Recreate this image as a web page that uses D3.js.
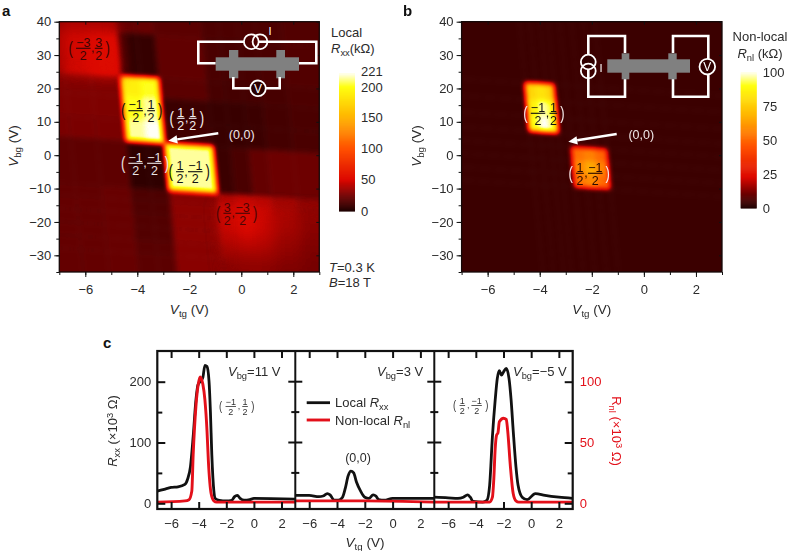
<!DOCTYPE html>
<html><head><meta charset="utf-8">
<script src="https://cdn.jsdelivr.net/npm/d3@7/dist/d3.min.js"></script>
<style>
html,body{margin:0;padding:0;background:#fff}
svg{display:block}
text{font-family:"Liberation Sans",Arial,sans-serif;fill:#2b2b2b}
</style></head><body>
<script>
// ---------- panel a ----------
const aTgEdges=[-11,-6.5,-5.5,-4.35,-3.6,-2.9,-1.05,-0.4,0.3,1,2,6];
const aBgEdges=[60,36,23,17,10,3.5,-10.5,-14,-18,-22,-26,-30,-60];
const aValues=[
 [30,38,38,22,22,18,14,14,14,14,16],
 [36,48,52,7,7,20,13,12,12,13,16],
 [29,29,29,190,200,18,12,11,11,12,14],
 [28,28,28,200,212,9,8,8,9,11,13],
 [27,27,27,212,221,10,8,8,9,11,13],
 [19,19,19,5,5,212,9,13,21,23,23],
 [20,20,22,14,14,30,40,44,42,36,32],
 [21,21,22,15,15,31,46,50,46,38,32],
 [21,21,22,16,16,31,46,52,46,37,30],
 [21,21,22,16,16,31,42,46,42,34,29],
 [21,21,22,17,17,30,36,38,36,31,27],
 [21,21,22,18,18,30,30,32,30,28,26]
];
const aBarTicks=[0,50,100,150,200,221];
// ---------- panel b ----------
const bTgEdges=[-11,-4.3,-3.9,-3.5,-3.2,-2.75,-2.3,-1.85,-1.4,6];
const bBgEdges=[60,21,16,11,6.5,2.5,-1.5,-5.5,-9.5,-60];
const bValues=[
 [4,4,4,4,4,4,4,4,4],
 [4,78,82,76,4,4,4,4,4],
 [4,86,96,90,4,4,4,4,4],
 [4,90,100,92,4,4,4,4,4],
 [4,4,4,4,4,4,4,4,4],
 [4,4,4,4,4,52,56,50,4],
 [4,4,4,4,4,58,66,56,4],
 [4,4,4,4,4,54,58,50,4],
 [4,4,4,4,4,4,4,4,4]
];
const bBarTicks=[0,25,50,75,100];
// ---------- panel c ----------
const c1Tg=[-7,-6.5,-6,-5.5,-5,-4.8,-4.6,-4.4,-4.2,-4.05,-3.9,-3.7,-3.55,-3.4,-3.25,-3.15,-3.05,-2.9,-2.8,-2.5,-2,-1.6,-1.4,-1.2,-1,-0.7,-0.3,0,3];
const c1Local=[20,23,26,27,31,40,60,110,170,195,200,207,227,225,200,150,80,20,8,5,4,5,11,13,8,5,6,8,7];
const c1NlTg=[-7,-5,-4.7,-4.5,-4.4,-4.2,-4,-3.9,-3.7,-3.55,-3.4,-3.3,-3.1,-2.9,-2.7,3];
const c1Nl=[1,2,3,10,40,80,100,104,98,85,60,35,8,2,1,1];
const c2Tg=[-7,-6,-5.3,-5,-4.7,-4.5,-4.2,-3.9,-3.6,-3.4,-3.2,-3,-2.8,-2.6,-2.3,-2,-1.7,-1.4,-1.2,-1,-0.6,0,3];
const c2Local=[13,13,11,12,16,14,5,5,10,25,45,53,50,35,20,10,8,14,12,6,5,8,8];
const c2NlTg=[-7,-3,-2,3];
const c2Nl=[2,2,2,1];
const c3Tg=[-7,-6,-5.3,-4.9,-4.6,-4.4,-4.2,-3.5,-3.2,-3,-2.8,-2.6,-2.45,-2.3,-2.15,-2,-1.8,-1.6,-1.45,-1.3,-1.1,-0.95,-0.65,-0.3,0.3,1,2,3];
const c3Local=[10,9,8,10,14,10,3,2,5,30,110,170,205,218,211,216,222,205,170,120,60,30,10,6,16,13,10,8];
const c3NlTg=[-7,-3.2,-3,-2.8,-2.7,-2.6,-2.5,-2.4,-2.3,-2,-1.8,-1.7,-1.5,-1.3,-1.1,-0.9,3];
const c3Nl=[1,1,1,5,20,45,56,58,67,70,69,60,30,8,2,1,1];
const cTgTicks=[-6,-4,-2,0,2];

const W=788,H=551;
const svg=d3.select("body").append("svg").attr("width",W).attr("height",H);
const defs=svg.append("defs");

const hotColor=d3.scaleLinear()
  .domain([0,0.11,0.226,0.45,0.68,0.9,1])
  .range(["#1e0000","#700000","#dc0800","#ff5000","#ffb400","#ffff10","#fffff8"]);

// blur works on a grey value field; the colour map is applied afterwards
function blurFilter(id,sd){
  defs.append("filter").attr("id",id).attr("color-interpolation-filters","sRGB")
    .attr("filterUnits","userSpaceOnUse").attr("x",-300).attr("y",-300).attr("width",1500).attr("height",1100)
    .append("feGaussianBlur").attr("stdDeviation",sd);
}
blurFilter("blurA",2.9); blurFilter("blurSoft",7);
{
  const f=defs.append("filter").attr("id","hotMap").attr("color-interpolation-filters","sRGB")
    .attr("filterUnits","userSpaceOnUse").attr("x",-300).attr("y",-300).attr("width",1500).attr("height",1100);
  const tr=f.append("feComponentTransfer");
  const samples=d3.range(0,1.0001,1/128).map(t=>d3.rgb(hotColor(t)));
  [["feFuncR","r"],["feFuncG","g"],["feFuncB","b"]].forEach(([n,k])=>
    tr.append(n).attr("type","table").attr("tableValues",samples.map(c=>(c[k]/255).toFixed(4)).join(" ")));
}
const grey=t=>{const v=Math.round(255*t);return `rgb(${v},${v},${v})`;};

function text(g,x,y,parts,opts={}){
  const t=g.append("text").attr("x",x).attr("y",y)
    .attr("font-size",opts.size||13).attr("text-anchor",opts.anchor||"start");
  if(opts.fill) t.style("fill",opts.fill);
  if(opts.weight) t.attr("font-weight",opts.weight);
  if(opts.rotate!=null) t.attr("transform",`rotate(${opts.rotate} ${x} ${y})`);
  parts.forEach(p=>{
    const s=t.append("tspan").text(p.t);
    if(p.i) s.attr("font-style","italic");
    if(p.sub) s.attr("dy",3).attr("font-size",(opts.size||13)*0.72);
    if(p.after) s.attr("dy",-3);
    if(p.sup) s.attr("dy",-4).attr("font-size",(opts.size||13)*0.72);
  });
  return t;
}

function fracLabel(g,cx,cy,pairs,opts={}){
  const size=opts.size||12.5, col=opts.color||"#111", pcol=opts.parenColor||col;
  const widthOf=s=>s.length>1?size*1.16:size*0.62;
  const gap=size*(opts.gapK||0.34), pw=size*(opts.padK||0.42);
  const total=widthOf(pairs[0][0])+widthOf(pairs[1][0])+gap+2*pw;
  let x=cx-total/2;
  const big=size*1.5;
  g.append("text").attr("x",x).attr("y",cy+big*0.28).attr("font-size",big)
   .attr("text-anchor","middle").style("fill",pcol).attr("transform",`translate(${x} ${cy}) scale(0.7 1) translate(${-x} ${-cy})`).text("(");
  x+=pw;
  pairs.forEach((p,i)=>{
    const w=widthOf(p[0]);
    g.append("text").attr("x",x+w/2).attr("y",cy-size*0.12).attr("font-size",size).attr("text-anchor","middle").style("fill",col).text(p[0]);
    g.append("text").attr("x",x+w/2).attr("y",cy+size*0.92).attr("font-size",size).attr("text-anchor","middle").style("fill",col).text(p[1]);
    g.append("line").attr("x1",x).attr("x2",x+w).attr("y1",cy).attr("y2",cy).attr("stroke",col).attr("stroke-width",Math.max(.7,size*.09));
    x+=w;
    if(i===0){
      g.append("text").attr("x",x+gap/2).attr("y",cy+size*0.32).attr("font-size",size).attr("text-anchor","middle").style("fill",col).text(",");
      x+=gap;
    }
  });
  x+=pw;
  g.append("text").attr("x",x).attr("y",cy+big*0.28).attr("font-size",big)
   .attr("text-anchor","middle").style("fill",pcol).attr("transform",`translate(${x} ${cy}) scale(0.7 1) translate(${-x} ${-cy})`).text(")");
}

function heatPanel(cfg){
  const g=svg.append("g");
  const x=d3.scaleLinear().domain([-7,3]).range(cfg.xr);
  const y=d3.scaleLinear().domain([-35,40]).range([272,21.7]);
  const id="clip"+cfg.id;
  defs.append("clipPath").attr("id",id).append("rect")
    .attr("x",cfg.xr[0]).attr("y",21.7).attr("width",cfg.xr[1]-cfg.xr[0]).attr("height",250.3);
  const clip=g.append("g").attr("clip-path",`url(#${id})`).append("g").attr("filter","url(#hotMap)");
  const heat=clip.append("g").attr("filter","url(#blurA)");
  const soft=clip.append("g").attr("filter","url(#blurSoft)");
  const corner=(c,r)=>{const bg=r-0.5*(c+3);const tg=c-0.012*bg;return [x(tg),y(bg)];};
  const line=d3.line();
  const isSoft=cfg.soft||(()=>false);
  cfg.values.forEach((row,j)=>row.forEach((v,i)=>{
    const col=grey(v/cfg.max);
    const d=line([corner(cfg.tg[i],cfg.bg[j]),corner(cfg.tg[i+1],cfg.bg[j]),corner(cfg.tg[i+1],cfg.bg[j+1]),corner(cfg.tg[i],cfg.bg[j+1])])+"Z";
    heat.append("path").attr("fill",col).attr("stroke",col).attr("stroke-width",.6).attr("d",d);
    if(isSoft(j,i)) soft.append("path").attr("fill",col).attr("stroke",col).attr("stroke-width",.6).attr("d",d);
  }));
  g.append("rect").attr("x",cfg.xr[0]).attr("y",21.7).attr("width",cfg.xr[1]-cfg.xr[0]).attr("height",250.3)
    .attr("fill","none").attr("stroke","#140808").attr("stroke-width",1.3);
  // axes
  const styleAxis=a=>{a.select(".domain").remove();a.selectAll("line").attr("stroke","#111").attr("stroke-width",1);
    a.selectAll("text").attr("font-size",13).style("fill","#2b2b2b").style("font-family",'"Liberation Sans",Arial,sans-serif');};
  styleAxis(g.append("g").attr("transform","translate(0,272)").call(d3.axisBottom(x).tickValues([-6,-4,-2,0,2]).tickSize(5).tickPadding(8).tickFormat(d3.format("d"))));
  styleAxis(g.append("g").attr("transform","translate(0,272)").call(d3.axisBottom(x).tickValues(d3.range(-7,4)).tickSize(3).tickFormat("")));
  styleAxis(g.append("g").attr("transform",`translate(${cfg.xr[0]},0)`).call(d3.axisLeft(y).tickValues(d3.range(-30,41,10)).tickSize(5).tickPadding(3).tickFormat(d3.format("d"))));
  styleAxis(g.append("g").attr("transform",`translate(${cfg.xr[0]},0)`).call(d3.axisLeft(y).tickValues(d3.range(-35,41,5)).tickSize(3).tickFormat("")));
  styleAxis(g.append("g").attr("transform","translate(0,21.7)").call(d3.axisTop(x).tickValues([-6,-4,-2,0,2]).tickSize(-3).tickFormat("")));
  styleAxis(g.append("g").attr("transform",`translate(${cfg.xr[1]},0)`).call(d3.axisRight(y).tickValues(d3.range(-30,41,10)).tickSize(-3).tickFormat("")));
  const xcen=(cfg.xr[0]+cfg.xr[1])/2;
  text(g,xcen,314,[{t:"V",i:1},{t:"tg",sub:1},{t:" (V)",after:1}],{anchor:"middle",size:13.5});
  text(g,cfg.xr[0]-41,146,[{t:"V",i:1},{t:"bg",sub:1},{t:" (V)",after:1}],{anchor:"middle",size:13.5,rotate:-90});
  // colour bar
  const by=d3.scaleLinear().domain([0,cfg.max]).range(cfg.barY);
  const bar=g.append("g");
  d3.range(0,cfg.max,cfg.max/140).forEach(v=>{
    bar.append("rect").attr("x",cfg.barX[0]).attr("width",cfg.barX[1]-cfg.barX[0])
      .attr("y",by(v+cfg.max/140)).attr("height",Math.abs(by(0)-by(cfg.max/140))+.6).attr("fill",hotColor(v/cfg.max));
  });
  cfg.barTicks.forEach(v=>{
    text(g,cfg.barX[1]+6,by(v)+cfg.barDy+(v===221?-2:0)+(v===200?1:0),[{t:String(v)}],{size:13});
  });
  return {g,x,y};
}

// PANEL A
const A=heatPanel({id:"a",xr:[59.3,319.3],tg:aTgEdges,bg:aBgEdges,values:aValues,max:221,
  barX:[339,355],barY:[211,73],barTicks:aBarTicks,barDy:4.5,
  soft:(j,i)=>(j>=7&&i>=6)||(j<=1&&i<=2)});
text(A.g,2,16,[{t:"a"}],{size:15,weight:"bold",fill:"#111"});
text(A.g,331,37,[{t:"Local"}],{size:13});
text(A.g,331,53,[{t:"R",i:1},{t:"xx",sub:1},{t:"(kΩ)",after:1}],{size:13});
text(A.g,329,272,[{t:"T",i:1},{t:"=0.3 K"}],{size:13});
text(A.g,329,287,[{t:"B",i:1},{t:"=18 T"}],{size:13});
fracLabel(A.g,89.3,48.3,[["−3","2"],["3","2"]],{color:"#3a0505"});
fracLabel(A.g,141.7,110.7,[["−1","2"],["1","2"]],{color:"#111"});
fracLabel(A.g,186.7,118.3,[["1","2"],["1","2"]],{color:"#f4f0f0"});
fracLabel(A.g,145,163.3,[["−1","2"],["−1","2"]],{color:"#e8e4e4"});
fracLabel(A.g,189.3,171.7,[["1","2"],["−1","2"]],{color:"#111"});
fracLabel(A.g,236.7,213.3,[["3","2"],["−3","2"]],{color:"#4a0505"});

function wire(g,pts){g.append("path").attr("d",d3.line()(pts)).attr("fill","none").attr("stroke","#fff").attr("stroke-width",2.6).attr("stroke-linejoin","miter");}
function circle(g,cx,cy,r,fill){g.append("circle").attr("cx",cx).attr("cy",cy).attr("r",r).attr("fill",fill).attr("stroke","#fff").attr("stroke-width",1.8);}
function arrow(g,x1,y1,x2,y2){
  const a=Math.atan2(y2-y1,x2-x1),L=9,w=4.2;
  const bx=x2-L*Math.cos(a),by=y2-L*Math.sin(a);
  g.append("line").attr("x1",x1).attr("y1",y1).attr("x2",bx).attr("y2",by).attr("stroke","#fff").attr("stroke-width",2.4);
  g.append("path").attr("fill","#fff").attr("d",d3.line()([[x2,y2],[bx-w*Math.sin(a),by+w*Math.cos(a)],[bx+w*Math.sin(a),by-w*Math.cos(a)]])+"Z");
}
{
  const g=A.g.append("g"), gray="#808080";
  wire(g,[[215.7,63.3],[198.3,63.3],[198.3,41.7],[316.3,41.7],[316.3,63.3],[299,63.3]]);
  g.append("rect").attr("x",215.7).attr("y",57.3).attr("width",83.3).attr("height",13.4).attr("fill",gray);
  g.append("rect").attr("x",229).attr("y",50).attr("width",9.3).attr("height",28.3).attr("fill",gray);
  g.append("rect").attr("x",276.3).attr("y",50).attr("width",8.7).attr("height",28.3).attr("fill",gray);
  wire(g,[[233.3,77],[233.3,88.3],[279.7,88.3],[279.7,77]]);
  circle(g,251.3,41.7,7.4,"#4a0000"); circle(g,260,41.7,7.4,"none");
  circle(g,258,88.3,7.8,"#2a0000");
  text(g,258,92.8,[{t:"V"}],{anchor:"middle",size:12,fill:"#fff"});
  text(g,270,35,[{t:"I"}],{anchor:"middle",size:11,fill:"#fff"});
  arrow(g,218.3,133.3,168.3,140.7);
  text(g,241.7,138.5,[{t:"(0,0)"}],{anchor:"middle",size:12.5,fill:"#f0e8e8"});
}

// PANEL B
const B=heatPanel({id:"b",xr:[461.6,722],tg:bTgEdges,bg:bBgEdges,values:bValues,max:100,
  barX:[740.7,756.7],barY:[208,72],barTicks:bBarTicks,barDy:4.5});
text(B.g,403,16,[{t:"b"}],{size:15,weight:"bold",fill:"#111"});
text(B.g,760,41,[{t:"Non-local"}],{size:13,anchor:"middle"});
text(B.g,760,58,[{t:"R",i:1},{t:"nl",sub:1},{t:" (kΩ)",after:1}],{size:13,anchor:"middle"});
fracLabel(B.g,544,113.3,[["−1","2"],["1","2"]],{color:"#111",parenColor:"#f4e8e8"});
fracLabel(B.g,589.3,173.3,[["1","2"],["−1","2"]],{color:"#2a0a00",parenColor:"#f4e8e8"});
{
  const g=B.g.append("g"), gray="#808080";
  wire(g,[[625,53],[625,36],[588.3,36],[588.3,96.7],[625,96.7],[625,79]]);
  wire(g,[[673,53],[673,36],[708.3,36],[708.3,96.7],[673,96.7],[673,79]]);
  g.append("rect").attr("x",607.3).attr("y",59.3).attr("width",82.7).attr("height",13.4).attr("fill",gray);
  g.append("rect").attr("x",621.7).attr("y",53.3).attr("width",7.6).attr("height",26).attr("fill",gray);
  g.append("rect").attr("x",668.3).attr("y",53.3).attr("width",8.4).attr("height",26).attr("fill",gray);
  circle(g,588.3,62,7.4,"#300000"); circle(g,588.3,71,7.4,"none");
  circle(g,707.3,66.7,7.8,"#300000");
  text(g,707.3,71.2,[{t:"V"}],{anchor:"middle",size:12,fill:"#fff"});
  text(g,601,71.5,[{t:"I"}],{anchor:"middle",size:11,fill:"#fff"});
  arrow(g,616.7,134,568.3,141.7);
  text(g,641.3,138.5,[{t:"(0,0)"}],{anchor:"middle",size:12.5,fill:"#f0e8e8"});
}

// PANEL C
{
  const g=svg.append("g");
  const top=351,bot=509,divs=[157.3,295.3,434.3,572.7];
  const y=d3.scaleLinear().domain([0,200]).range([503.3,381.7]);
  const yR=d3.scaleLinear().domain([0,100]).range([503.3,381.7]);
  const xs=[0,1,2].map(i=>d3.scaleLinear().domain([-7,3]).range([divs[i],divs[i+1]]));
  const series=[[c1Tg,c1Local,c1NlTg,c1Nl],[c2Tg,c2Local,c2NlTg,c2Nl],[c3Tg,c3Local,c3NlTg,c3Nl]];
  const styleC=a=>{a.select(".domain").remove();a.selectAll("line").attr("stroke","#111").attr("stroke-width",2);
    a.selectAll("text").attr("font-size",13).style("fill","#2b2b2b").style("font-family",'"Liberation Sans",Arial,sans-serif');};
  xs.forEach((x,i)=>{
    const [tg,lo,ntg,nl]=series[i];
    const ln=d3.line().curve(d3.curveMonotoneX);
    g.append("path").attr("d",ln(tg.map((t,k)=>[x(t),y(lo[k])]))).attr("fill","none").attr("stroke","#111").attr("stroke-width",2.8);
    g.append("path").attr("d",ln(ntg.map((t,k)=>[x(t),yR(nl[k])]))).attr("fill","none").attr("stroke","#e3101a").attr("stroke-width",2.9);
    styleC(g.append("g").attr("transform",`translate(0,${bot})`).call(d3.axisBottom(x).tickValues(cTgTicks).tickSizeInner(-7).tickSizeOuter(0).tickPadding(9).tickFormat(d3.format("d"))));
    styleC(g.append("g").attr("transform",`translate(0,${top})`).call(d3.axisTop(x).tickValues(cTgTicks).tickSizeInner(-7).tickSizeOuter(0).tickFormat("")));
  });
  // tick labels sit below the inward ticks
  g.selectAll(".tick text").attr("y",10);
  g.append("rect").attr("x",divs[0]).attr("y",top).attr("width",divs[3]-divs[0]).attr("height",bot-top).attr("fill","none").attr("stroke","#111").attr("stroke-width",2.2);
  [divs[1],divs[2]].forEach(d=>g.append("line").attr("x1",d).attr("x2",d).attr("y1",top).attr("y2",bot).attr("stroke","#111").attr("stroke-width",2));
  // vertical ticks
  styleC(g.append("g").attr("transform",`translate(${divs[0]},0)`).call(d3.axisLeft(y).tickValues([0,100,200]).tickSizeInner(-8).tickSizeOuter(0).tickPadding(6).tickFormat(d3.format("d"))));
  styleC(g.append("g").attr("transform",`translate(${divs[0]},0)`).call(d3.axisLeft(y).tickValues([50,150]).tickSizeInner(-5).tickSizeOuter(0).tickFormat("")));
  [divs[1],divs[2]].forEach(d=>{
    [[100,7],[200,7],[50,4],[150,4]].forEach(([v,l])=>g.append("line").attr("x1",d-l).attr("x2",d+l).attr("y1",y(v)).attr("y2",y(v)).attr("stroke","#111").attr("stroke-width",2));
  });
  const ra=g.append("g").attr("transform",`translate(${divs[3]},0)`).call(d3.axisRight(yR).tickValues([0,50,100]).tickSizeInner(-8).tickSizeOuter(0).tickPadding(7).tickFormat(d3.format("d")));
  styleC(ra); ra.selectAll("text").style("fill","#e3101a");
  styleC(g.append("g").attr("transform",`translate(${divs[3]},0)`).call(d3.axisRight(yR).tickValues([25,75]).tickSizeInner(-5).tickSizeOuter(0).tickFormat("")));
  text(g,103,348,[{t:"c"}],{size:15,weight:"bold",fill:"#111"});
  text(g,117,431,[{t:"R",i:1},{t:"xx",sub:1},{t:" (×10",after:1},{t:"3",sup:1},{t:" Ω)"}],{anchor:"middle",size:13,rotate:-90}).selectAll("tspan").filter((d,i)=>i===4).attr("dy",4);
  text(g,612,431,[{t:"R"},{t:"nl",sub:1},{t:" (×10",after:1},{t:"3",sup:1},{t:" Ω)"}],{anchor:"middle",size:13,rotate:90,fill:"#e3101a"}).selectAll("tspan").filter((d,i)=>i===4).attr("dy",4);
  text(g,365,547,[{t:"V",i:1},{t:"tg",sub:1},{t:" (V)",after:1}],{anchor:"middle",size:13.5});
  text(g,228,376,[{t:"V",i:1},{t:"bg",sub:1},{t:"=11 V",after:1}],{size:13});
  text(g,377,376,[{t:"V",i:1},{t:"bg",sub:1},{t:"=3 V",after:1}],{size:13});
  text(g,513,376,[{t:"V",i:1},{t:"bg",sub:1},{t:"=−5 V",after:1}],{size:13});
  g.append("line").attr("x1",306.7).attr("x2",330).attr("y1",402.7).attr("y2",402.7).attr("stroke","#111").attr("stroke-width",2.8);
  g.append("line").attr("x1",306.7).attr("x2",330).attr("y1",420).attr("y2",420).attr("stroke","#e3101a").attr("stroke-width",2.9);
  text(g,335,407,[{t:"Local "},{t:"R",i:1},{t:"xx",sub:1}],{size:13});
  text(g,335,424.5,[{t:"Non-local "},{t:"R",i:1},{t:"nl",sub:1}],{size:13});
  fracLabel(g,236.7,406.5,[["−1","2"],["1","2"]],{size:9,color:"#333",gapK:.7,padK:.55});
  fracLabel(g,470.7,405.5,[["1","2"],["−1","2"]],{size:9,color:"#333",gapK:.7,padK:.55});
  text(g,358,462,[{t:"(0,0)"}],{anchor:"middle",size:12.5});
}
</script></body></html>
